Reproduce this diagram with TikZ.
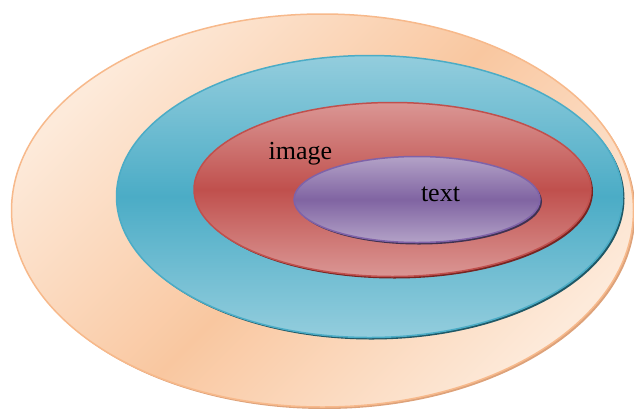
\documentclass[tikz,border=0pt]{standalone}
\usepackage{fontspec}
\setmainfont{Liberation Serif}
\usetikzlibrary{shapes.geometric}
\definecolor{peachL}{HTML}{FDEADA}
\definecolor{peachD}{HTML}{F9C7A0}
\definecolor{peachB}{HTML}{F7B98B}
\definecolor{peachS}{HTML}{DDA27A}
\definecolor{blueL}{HTML}{93CDDD}
\definecolor{blueD}{HTML}{4BACC6}
\definecolor{blueB}{HTML}{4BACC6}
\definecolor{blueS}{HTML}{1F5866}
\definecolor{redL}{HTML}{DA9694}
\definecolor{redD}{HTML}{C0504D}
\definecolor{redB}{HTML}{C0504D}
\definecolor{redS}{HTML}{772421}
\definecolor{purL}{HTML}{B3A2C7}
\definecolor{purD}{HTML}{8064A2}
\definecolor{purB}{HTML}{7F62A8}
\definecolor{purS}{HTML}{3F3151}
\tikzset{
  ring/.style={ellipse, inner sep=0pt, outer sep=0pt, line width=1.5pt},
  lbl/.style={font=\fontsize{26}{28}\selectfont, text=black, inner sep=0pt}
}
\begin{document}
\begin{tikzpicture}[x=1pt,y=-1pt]
\useasboundingbox (0,0) rectangle (634,408);
% outer
\node[ring, fill=peachS, minimum width=622pt, minimum height=393pt] (outS) at (324.5,212.5) {};
\node[ring, draw=peachB, top color=peachL, bottom color=peachL, middle color=peachD, shading angle=45, minimum width=622pt, minimum height=393pt] (outer) at (322.5,210.5) {};
% blue
\node[ring, fill=blueS, minimum width=506pt, minimum height=282pt] (blueS) at (371.5,198.5) {};
\node[ring, draw=blueB, top color=blueL, bottom color=blueL, middle color=blueD, minimum width=506pt, minimum height=282pt] (blue) at (369.5,196.5) {};
% red
\node[ring, fill=redS, minimum width=397pt, minimum height=174pt] (redS) at (394.5,191.5) {};
\node[ring, draw=redB, top color=redL, bottom color=redL, middle color=redD, minimum width=397pt, minimum height=174pt] (red) at (392.5,189.5) {};
% purple
\node[ring, fill=purS, minimum width=246pt, minimum height=86pt] (purS) at (419,201.5) {};
\node[ring, draw=purB, top color=purL, bottom color=purL, middle color=purD, minimum width=246pt, minimum height=86pt] (pur) at (417,199.5) {};
% labels
\node[lbl] (image) at (300.5,154) {image};
\node[lbl] (text) at (440.5,194) {text};
\end{tikzpicture}
\end{document}
